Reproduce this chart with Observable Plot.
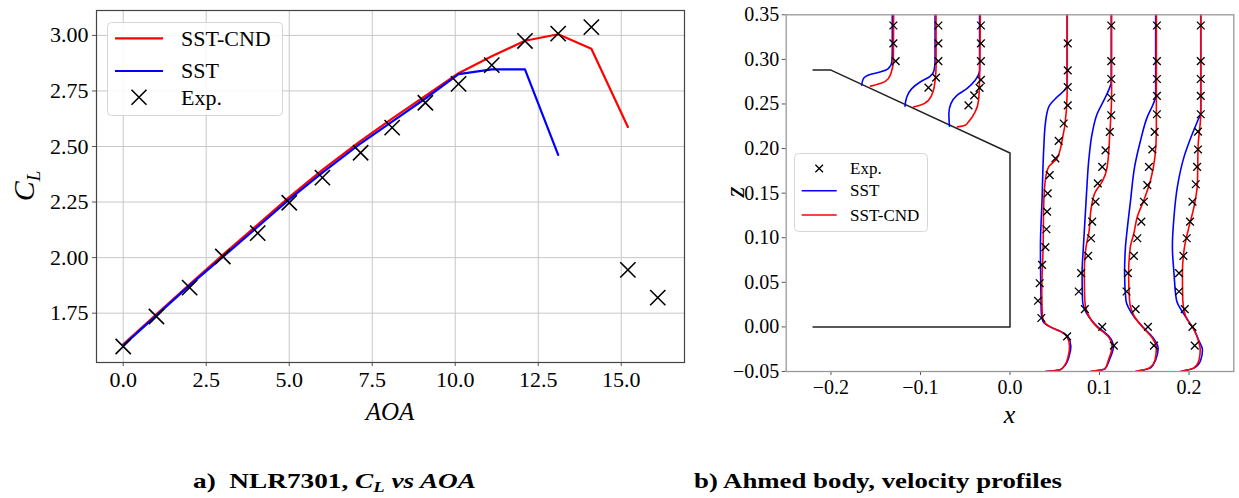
<!DOCTYPE html>
<html><head><meta charset="utf-8">
<script src="https://cdn.jsdelivr.net/npm/d3@7"></script>
<script src="https://cdn.jsdelivr.net/npm/@observablehq/plot@0.6"></script>
<style>
body{margin:0;background:#fff;}
#wrap{position:relative;width:1239px;height:498px;overflow:hidden;font-family:"Liberation Serif","Times New Roman",serif;background:#fff;}
#left{position:absolute;left:0;top:0;}
#right{position:absolute;left:700px;top:0;}
.abs{position:absolute;}
</style></head>
<body><div id="wrap"><div id="left"></div><div id="right"></div></div>
<script>
// ---------- Panel a: NLR7301 CL vs AOA ----------
const aoaExp = [0, 1, 2, 3, 4.05, 5, 6, 7.15, 8.1, 9.1, 10.1, 11.1, 12.1, 13.1, 14.1, 15.2, 16.1];
const clExp  = [1.60, 1.735, 1.865, 2.005, 2.11, 2.247, 2.36, 2.472, 2.585, 2.697, 2.782, 2.866, 2.975, 3.008, 3.037, 1.945, 1.82];
const aoaCND = [0, 1, 2, 3, 4, 5, 6, 7.1, 8.1, 9.1, 10.1, 11.1, 12.1, 13.1, 14.1, 15.2];
const clCND  = [1.61, 1.745, 1.88, 2.012, 2.142, 2.272, 2.395, 2.52, 2.625, 2.728, 2.83, 2.906, 2.976, 3.005, 2.94, 2.588];
const aoaSST = [0, 1, 2, 3, 4, 5, 6, 7.1, 8.1, 9.1, 10.1, 11.1, 12.1, 13.1];
const clSST  = [1.605, 1.74, 1.875, 2.003, 2.132, 2.262, 2.382, 2.508, 2.612, 2.716, 2.826, 2.847, 2.847, 2.462];
const xTicksA = [0, 2.5, 5, 7.5, 10, 12.5, 15];
const yTicksA = [1.75, 2.0, 2.25, 2.5, 2.75, 3.0];

// ---------- Panel b: Ahmed body velocity profiles ([x, z]) ----------
const bodyOutline = [[-0.22, 0.288], [-0.2, 0.288], [0, 0.195], [0, 0], [-0.22, 0]];
const st1SST = [[-0.1657,0.271],[-0.164,0.278],[-0.1564,0.283],[-0.1452,0.2858],[-0.136,0.2896],[-0.132,0.297],[-0.1315,0.31],[-0.1315,0.35]];
const st1CND = [[-0.1557,0.270],[-0.1433,0.2735],[-0.136,0.2784],[-0.132,0.2877],[-0.1303,0.2989],[-0.130,0.35]];
const st1Exp = [[-0.1277,0.298],[-0.1303,0.318],[-0.1303,0.338]];
const st2SST = [[-0.1173,0.2474],[-0.1153,0.2578],[-0.1097,0.2672],[-0.1004,0.2746],[-0.0893,0.281],[-0.0848,0.2877],[-0.0837,0.2989],[-0.0837,0.35]];
const st2CND = [[-0.108,0.2466],[-0.1004,0.2485],[-0.0911,0.2541],[-0.0855,0.2653],[-0.0837,0.2765],[-0.0826,0.2914],[-0.0826,0.35]];
const st2Exp = [[-0.0911,0.2683],[-0.0826,0.2795],[-0.080,0.298],[-0.080,0.318],[-0.080,0.338]];
const st3SST = [[-0.0676,0.225],[-0.0683,0.2393],[-0.066,0.2504],[-0.0593,0.2597],[-0.0482,0.2672],[-0.0389,0.2765],[-0.034,0.2877],[-0.034,0.35]];
const st3CND = [[-0.0587,0.2243],[-0.05,0.2262],[-0.0464,0.2299],[-0.0389,0.2411],[-0.0351,0.2541],[-0.034,0.2765],[-0.0332,0.35]];
const st3Exp = [[-0.0464,0.2485],[-0.04,0.2597],[-0.034,0.268],[-0.0325,0.277],[-0.0325,0.298],[-0.0325,0.318],[-0.0325,0.338]];
const st4SST = [[0.0395,-0.05],[0.056,-0.048],[0.062,-0.0423],[0.066,-0.033],[0.068,-0.022],[0.0645,-0.0106],[0.0565,-0.005],[0.045,0.0],[0.037,0.006],[0.035,0.015],[0.0345,0.04],[0.034,0.09],[0.0358,0.142],[0.0376,0.198],[0.0395,0.228],[0.0432,0.2466],[0.0526,0.2578],[0.0605,0.265],[0.0638,0.271],[0.0638,0.35]];
const st4CND = [[0.0395,-0.05],[0.056,-0.048],[0.0615,-0.0423],[0.065,-0.033],[0.0665,-0.022],[0.0635,-0.0106],[0.056,-0.005],[0.045,0.0],[0.038,0.006],[0.036,0.015],[0.0355,0.04],[0.037,0.09],[0.0376,0.135],[0.0395,0.165],[0.0432,0.1795],[0.0526,0.189],[0.0582,0.209],[0.063,0.243],[0.064,0.275],[0.064,0.35]];
const st4Exp = [[0.0638,-0.0106],[0.035,0.01],[0.0313,0.0293],[0.0332,0.049],[0.0358,0.0696],[0.0395,0.0894],[0.0407,0.1095],[0.0414,0.1292],[0.0421,0.1498],[0.0443,0.1702],[0.0507,0.189],[0.0544,0.2086],[0.06,0.2281],[0.0645,0.2485],[0.0645,0.269],[0.0645,0.2877],[0.0645,0.318]];
const st5SST = [[0.09,-0.05],[0.106,-0.047],[0.111,-0.037],[0.1155,-0.022],[0.1105,-0.0106],[0.098,0.0],[0.0855,0.0155],[0.081,0.03],[0.0805,0.06],[0.082,0.09],[0.0855,0.15],[0.088,0.187],[0.0918,0.217],[0.0974,0.239],[0.1048,0.254],[0.11,0.265],[0.1131,0.275],[0.1131,0.35]];
const st5CND = [[0.09,-0.05],[0.106,-0.047],[0.110,-0.037],[0.114,-0.022],[0.1095,-0.0106],[0.097,0.0],[0.0865,0.0155],[0.0835,0.03],[0.083,0.06],[0.085,0.09],[0.088,0.105],[0.091,0.135],[0.0955,0.1516],[0.103,0.1628],[0.1086,0.1795],[0.1115,0.217],[0.1135,0.26],[0.1135,0.35]];
const st5Exp = [[0.116,-0.021],[0.103,0.0],[0.0836,0.02],[0.0768,0.0397],[0.0795,0.0603],[0.0873,0.0797],[0.0905,0.0994],[0.0918,0.118],[0.0955,0.1404],[0.0981,0.161],[0.103,0.1795],[0.1067,0.198],[0.1115,0.2187],[0.1131,0.2374],[0.1131,0.257],[0.1131,0.278],[0.1131,0.298],[0.1131,0.338]];
const st6SST = [[0.1403,-0.05],[0.157,-0.046],[0.1627,-0.037],[0.1655,-0.024],[0.16,-0.0124],[0.1496,-0.0013],[0.1384,0.0117],[0.1295,0.03],[0.128,0.06],[0.129,0.09],[0.131,0.11],[0.1347,0.142],[0.1392,0.1795],[0.1459,0.2094],[0.1534,0.2355],[0.16,0.25],[0.1627,0.258],[0.1627,0.35]];
const st6CND = [[0.1403,-0.05],[0.156,-0.046],[0.162,-0.037],[0.1635,-0.024],[0.159,-0.0124],[0.149,-0.0013],[0.139,0.0117],[0.1335,0.03],[0.1325,0.06],[0.1345,0.09],[0.1384,0.105],[0.1422,0.1236],[0.1496,0.1423],[0.1571,0.1647],[0.1619,0.1907],[0.1635,0.22],[0.1635,0.35]];
const st6Exp = [[0.1608,-0.021],[0.1541,0.0],[0.1403,0.02],[0.1302,0.0397],[0.1317,0.0603],[0.1384,0.0797],[0.1422,0.0994],[0.1467,0.118],[0.1496,0.1404],[0.1534,0.159],[0.1552,0.1795],[0.159,0.199],[0.1616,0.2187],[0.1641,0.2385],[0.1641,0.259],[0.1641,0.278],[0.1641,0.298],[0.1641,0.338]];
const st7SST = [[0.1907,-0.05],[0.206,-0.046],[0.2131,-0.037],[0.215,-0.0255],[0.2112,-0.016],[0.2056,-0.0031],[0.196,0.0117],[0.186,0.03],[0.1832,0.06],[0.1814,0.09],[0.1832,0.1236],[0.187,0.1572],[0.1944,0.1907],[0.2038,0.2169],[0.21,0.232],[0.2131,0.24],[0.2131,0.35]];
const st7CND = [[0.1907,-0.05],[0.2056,-0.046],[0.2112,-0.037],[0.2125,-0.0255],[0.2112,-0.018],[0.2056,-0.0031],[0.1963,0.0117],[0.193,0.03],[0.1926,0.06],[0.195,0.09],[0.2,0.1124],[0.2056,0.1348],[0.2094,0.161],[0.2101,0.2019],[0.2131,0.24],[0.2131,0.35]];
const st7Exp = [[0.2064,-0.021],[0.2038,0.0],[0.1952,0.02],[0.1888,0.0397],[0.1888,0.0603],[0.1937,0.0797],[0.1974,0.0994],[0.2011,0.118],[0.2038,0.1404],[0.2075,0.16],[0.209,0.1795],[0.21,0.199],[0.21,0.219],[0.2131,0.2385],[0.2131,0.259],[0.2131,0.278],[0.2131,0.298],[0.2131,0.338]];
const xTicksB = [-0.2, -0.1, 0, 0.1, 0.2];
const yTicksB = [-0.05, 0, 0.05, 0.1, 0.15, 0.2, 0.25, 0.3, 0.35];

const RED = "#ff0000", BLUE = "#0000ff";
const SERIF = "'Liberation Serif','Times New Roman',serif";

// ---------- build tables ----------
const expA = aoaExp.map((a, i) => ({aoa: a, cl: clExp[i]}));
const cndA = aoaCND.map((a, i) => ({aoa: a, cl: clCND[i]}));
const sstA = aoaSST.map((a, i) => ({aoa: a, cl: clSST[i]}));

const sstProfiles = [st1SST, st2SST, st3SST, st4SST, st5SST, st6SST, st7SST];
const cndProfiles = [st1CND, st2CND, st3CND, st4CND, st5CND, st6CND, st7CND];
const expProfiles = [st1Exp, st2Exp, st3Exp, st4Exp, st5Exp, st6Exp, st7Exp];
const toRows = (arr) => arr.flatMap((p, k) => p.map(([x, z]) => ({x, z, st: k})));
const sstRows = toRows(sstProfiles);
const cndRows = toRows(cndProfiles);
const expRows = toRows(expProfiles);
const bodyRows = bodyOutline.map(([x, z]) => ({x, z}));

// ---------- left plot ----------
const left = Plot.plot({
  width: 700, height: 430,
  marginLeft: 96, marginRight: 16, marginTop: 10, marginBottom: 68,
  x: {domain: [-0.805, 16.905], ticks: xTicksA, tickFormat: d3.format(".1f"), tickSize: 4, tickPadding: 5, label: null},
  y: {domain: [1.528, 3.112], ticks: yTicksA, tickFormat: d3.format(".2f"), tickSize: 4, tickPadding: 4, label: null},
  style: {fontFamily: SERIF, fontSize: "22px", color: "#000", background: "#fff", overflow: "visible"},
  marks: [
    Plot.ruleX(xTicksA, {stroke: "#c8c8c8", strokeWidth: 1}),
    Plot.ruleY(yTicksA, {stroke: "#c8c8c8", strokeWidth: 1}),
    Plot.line(cndA, {x: "aoa", y: "cl", stroke: RED, strokeWidth: 2.2}),
    Plot.line(sstA, {x: "aoa", y: "cl", stroke: BLUE, strokeWidth: 2.2}),
    Plot.dot(expA, {x: "aoa", y: "cl", symbol: "times", r: 7, stroke: "#000", strokeWidth: 1.6}),
    Plot.frame({stroke: "#444", strokeWidth: 1.2})
  ]
});
document.getElementById("left").appendChild(left);

// ---------- right plot ----------
const right = Plot.plot({
  width: 539, height: 430,
  marginLeft: 85.7, marginRight: 5.7, marginTop: 14.3, marginBottom: 59,
  x: {domain: [-0.25, 0.25], ticks: xTicksB, tickFormat: d3.format(".1f"), tickSize: 4, tickPadding: 4, label: null},
  y: {domain: [-0.05, 0.35], ticks: yTicksB, tickFormat: d3.format(".2f"), tickSize: 4, tickPadding: 3, label: null},
  style: {fontFamily: SERIF, fontSize: "20px", color: "#000", background: "#fff", overflow: "visible"},
  marks: [
    Plot.line(bodyRows, {x: "x", y: "z", stroke: "#222", strokeWidth: 1.5}),
    Plot.line(sstRows, {x: "x", y: "z", z: "st", stroke: BLUE, strokeWidth: 1.6, curve: "monotone-y", clip: true}),
    Plot.line(cndRows, {x: "x", y: "z", z: "st", stroke: RED, strokeWidth: 1.6, curve: "monotone-y", clip: true}),
    Plot.dot(expRows, {x: "x", y: "z", symbol: "times", r: 3.6, stroke: "#000", strokeWidth: 1.3}),
    Plot.frame({stroke: "#999", strokeWidth: 1.3})
  ]
});
document.getElementById("right").appendChild(right);

// tick colours
for (const svg of [left, right]) {
  d3.select(svg).selectAll("[aria-label$='tick'] path, [aria-label$='tick']").attr("stroke", "#555");
  d3.select(svg).selectAll("[aria-label$='tick label'] text, [aria-label$='tick label']").attr("fill", "#000");
}

// ---------- axis labels ----------
const ls = d3.select(left);
ls.append("text").attr("x", 390).attr("y", 420).attr("text-anchor", "middle")
  .attr("font-family", SERIF).attr("font-style", "italic").attr("font-size", 25).text("AOA");
const cl = ls.append("text").attr("transform", "translate(34,186) rotate(-90)").attr("text-anchor", "middle")
  .attr("font-family", SERIF).attr("font-style", "italic").attr("font-size", 30);
cl.append("tspan").text("C");
cl.append("tspan").attr("font-size", 19).attr("dy", 6).text("L");

const rs = d3.select(right);
rs.append("text").attr("x", 309.5).attr("y", 423).attr("text-anchor", "middle")
  .attr("font-family", SERIF).attr("font-style", "italic").attr("font-size", 26).text("x");
rs.append("text").attr("transform", "translate(44,192) rotate(-90)").attr("text-anchor", "middle")
  .attr("font-family", SERIF).attr("font-style", "italic").attr("font-size", 28).text("z");

// ---------- legends ----------
const wrap = d3.select("#wrap");
function legend(x, y, w, h, items, fs, lineLen, textX, crossR) {
  const s = wrap.append("svg").attr("class", "abs").style("left", x + "px").style("top", y + "px")
    .attr("width", w + 2).attr("height", h + 2);
  s.append("rect").attr("x", 0.5).attr("y", 0.5).attr("width", w).attr("height", h).attr("rx", 4)
    .attr("fill", "rgba(255,255,255,0.85)").attr("stroke", "#d6d6d6");
  for (const it of items) {
    const cx = it.lx + lineLen / 2;
    if (it.type === "line") {
      s.append("line").attr("x1", it.lx).attr("x2", it.lx + lineLen).attr("y1", it.y).attr("y2", it.y)
        .attr("stroke", it.color).attr("stroke-width", it.sw);
    } else {
      s.append("path").attr("d", `M${cx - crossR},${it.y - crossR}L${cx + crossR},${it.y + crossR}M${cx - crossR},${it.y + crossR}L${cx + crossR},${it.y - crossR}`)
        .attr("stroke", "#000").attr("stroke-width", it.sw);
    }
    s.append("text").attr("x", textX).attr("y", it.y).attr("dy", "0.33em")
      .attr("font-family", SERIF).attr("font-size", fs).text(it.label);
  }
}
legend(107, 22, 175, 93, [
  {type: "line", label: "SST-CND", color: RED, y: 16.3, lx: 8, sw: 2.2},
  {type: "line", label: "SST", color: BLUE, y: 49, lx: 8, sw: 2.2},
  {type: "cross", label: "Exp.", y: 75.3, lx: 8, sw: 1.6}
], 22, 48, 74, 7.5);
legend(794, 153, 133, 78, [
  {type: "cross", label: "Exp.", y: 15.5, lx: 7.7, sw: 1.3},
  {type: "line", label: "SST", color: BLUE, y: 37.7, lx: 7.7, sw: 1.6},
  {type: "line", label: "SST-CND", color: RED, y: 62, lx: 7.7, sw: 1.6}
], 17, 35, 56, 3.8);

// ---------- captions ----------
const cap = wrap.append("svg").attr("class", "abs").style("left", "0px").style("top", "450px")
  .attr("width", 1239).attr("height", 48);
const ca = cap.append("text").attr("x", 193).attr("y", 38).attr("font-family", SERIF)
  .attr("font-weight", "bold").attr("font-size", 22).attr("textLength", 283).attr("lengthAdjust", "spacingAndGlyphs");
ca.append("tspan").text("a)\u00a0\u00a0NLR7301, ");
ca.append("tspan").attr("font-style", "italic").text("C");
ca.append("tspan").attr("font-style", "italic").attr("font-size", 15).attr("dy", 4).text("L");
ca.append("tspan").attr("font-style", "italic").attr("dy", -4).text(" vs AOA");
cap.append("text").attr("x", 694).attr("y", 38).attr("font-family", SERIF)
  .attr("font-weight", "bold").attr("font-size", 22).attr("textLength", 368).attr("lengthAdjust", "spacingAndGlyphs")
  .text("b) Ahmed body, velocity profiles");
</script>
</body></html>
